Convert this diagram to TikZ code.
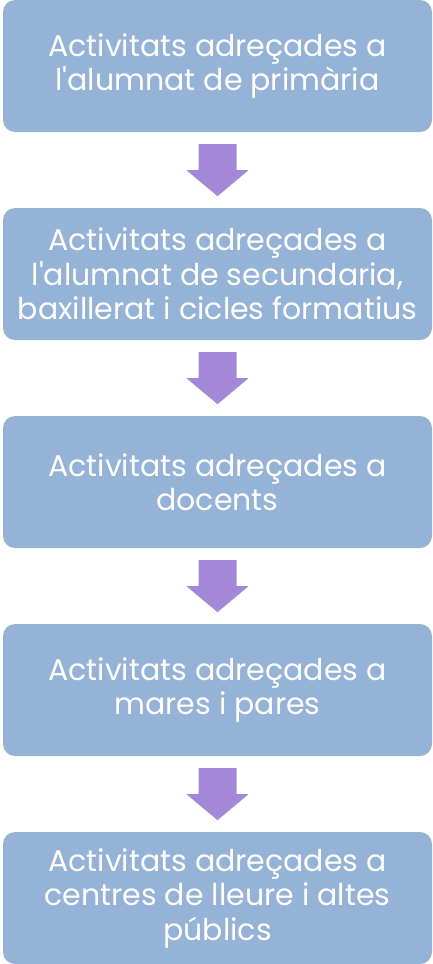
\documentclass[tikz,border=0pt]{standalone}
\usepackage{fontspec}
\setmainfont{Poppins}
\usetikzlibrary{calc}
\definecolor{boxc}{HTML}{95B3D7}
\definecolor{arrc}{HTML}{A388D7}
\begin{document}
\begin{tikzpicture}[x=1pt,y=1pt,
  box/.style={fill=boxc, rounded corners=12pt, minimum width=429pt, minimum height=132pt,
    text=white, align=center, font=\fontsize{30}{34.5}\selectfont, inner sep=0pt},
  arr/.style={fill=arrc}]
\useasboundingbox (0,0) rectangle (432,-964);
\node[box] (b1) at (217.5,-66) {Activitats adreçades a\\l\textquotesingle alumnat de primària};
\node[box] (b2) at (217.5,-274) {Activitats adreçades a\\l\textquotesingle alumnat de secundaria,\\baxillerat i cicles formatius};
\node[box] (b3) at (217.5,-482) {Activitats adreçades a\\docents};
\node[box] (b4) at (217.5,-690) {Activitats adreçades a\\mares i pares};
\node[box] (b5) at (217.5,-898) {Activitats adreçades a\\centres de lleure i altes\\públics};
\foreach \a in {b1,b2,b3,b4}{
  \fill[arr] ($(\a.south)+(-19,-12)$) -- ($(\a.south)+(19,-12)$) -- ($(\a.south)+(19,-38)$)
    -- ($(\a.south)+(31,-38)$) -- ($(\a.south)+(0,-64)$) -- ($(\a.south)+(-31,-38)$)
    -- ($(\a.south)+(-19,-38)$) -- cycle;
}
\end{tikzpicture}
\end{document}
